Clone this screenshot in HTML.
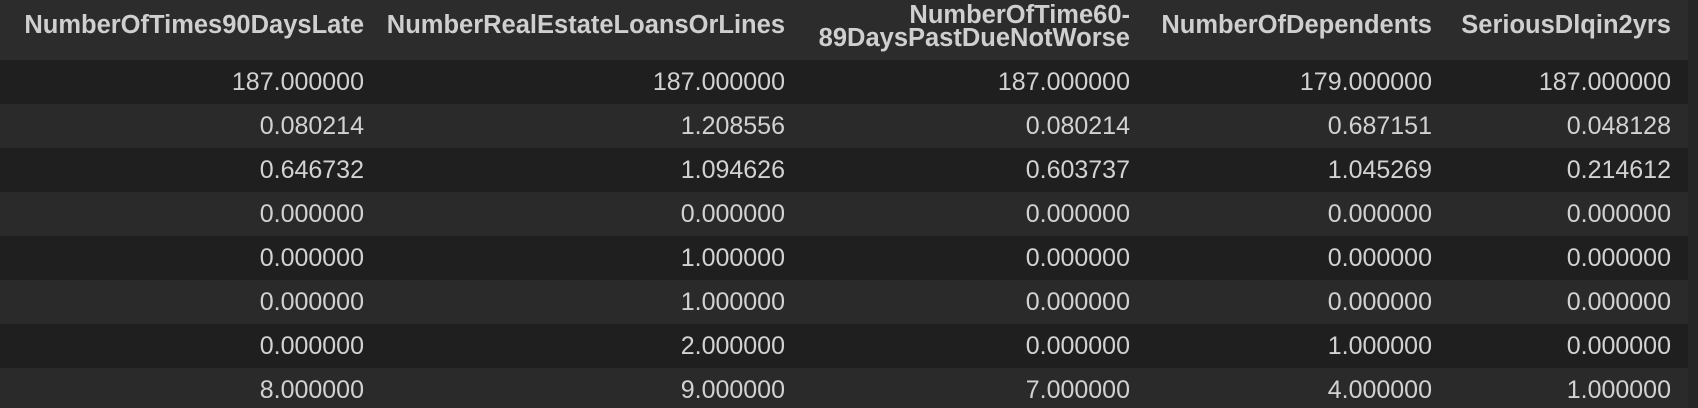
<!DOCTYPE html>
<html><head><meta charset="utf-8"><style>
html,body{margin:0;padding:0;background:#262626;width:1698px;height:408px;overflow:hidden;font-family:"Liberation Sans",sans-serif}
#wrap{position:relative;width:1698px;height:408px}
.hdr{position:absolute;left:0;top:0;width:1688px;height:60px;background:#2c2c2c}
.row{position:absolute;left:0;width:1688px;height:44px}
.c{position:absolute;white-space:nowrap;text-align:right;color:#d2d2d2;font-size:25px;transform:translateX(-100%);line-height:44px;top:0}
.h{position:absolute;white-space:nowrap;text-align:right;color:#cfcfcf;font-size:25.5px;font-weight:bold;transform:translateX(-100%);line-height:23px}
</style></head><body>
<div id="wrap">
<div class="hdr">
<div class="h" style="left:364px;top:14px">NumberOfTimes90DaysLate</div>
<div class="h" style="left:785px;top:14px">NumberRealEstateLoansOrLines</div>
<div class="h" style="left:1130px;top:4px">NumberOfTime60-<br>89DaysPastDueNotWorse</div>
<div class="h" style="left:1432px;top:14px">NumberOfDependents</div>
<div class="h" style="left:1671px;top:14px">SeriousDlqin2yrs</div>
</div>
<div id="body"></div>
</div>
<script>
const rows=[
["187.000000","187.000000","187.000000","179.000000","187.000000"],
["0.080214","1.208556","0.080214","0.687151","0.048128"],
["0.646732","1.094626","0.603737","1.045269","0.214612"],
["0.000000","0.000000","0.000000","0.000000","0.000000"],
["0.000000","1.000000","0.000000","0.000000","0.000000"],
["0.000000","1.000000","0.000000","0.000000","0.000000"],
["0.000000","2.000000","0.000000","1.000000","0.000000"],
["8.000000","9.000000","7.000000","4.000000","1.000000"]];
const rights=[364,785,1130,1432,1671];
const body=document.getElementById('body');
rows.forEach((r,i)=>{
 const d=document.createElement('div');
 d.className='row';
 
 
 d.style.top=(60+i*44)+'px';
 d.style.background=i%2===0?'#1f1f1f':'#2a2a2a';
 r.forEach((v,j)=>{
  const c=document.createElement('div');
  c.className='c';
  
  
  c.style.left=rights[j]+'px';
  c.textContent=v;
  d.appendChild(c);
 });
 body.appendChild(d);
});
</script>
</body></html>
